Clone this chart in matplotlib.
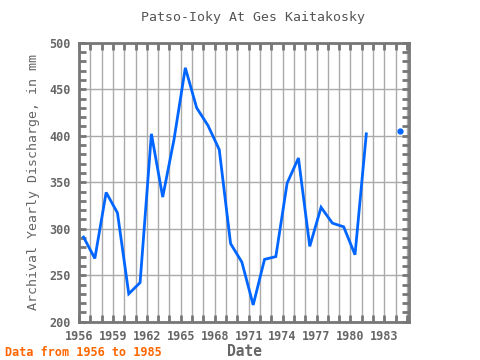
import numpy as np
import matplotlib
matplotlib.use("Agg")
import matplotlib.pyplot as plt
from matplotlib.ticker import MultipleLocator

# Data (hydrological years, plotted at ~0.4 into each year)
years = list(range(1956, 1985))
discharge = [291, 268, 339, 317, 230, 242, 402, 334, 396, 473, 430, 411, 385,
             284, 264, 218, 267, 270, 349, 376, 281, 323, 306, 302, 272, 402,
             np.nan, np.nan, 405]
date_offset = 0.4

title = "Patso-Ioky At Ges Kaitakosky"
xlabel = "Date"
ylabel = "Archival Yearly Discharge, in mm"
footer = "Data from 1956 to 1985"
xticks = list(range(1956, 1986, 3))
yticks = list(range(200, 501, 50))

mono = ["DejaVu Sans Mono"]
gray = "#666666"

fig = plt.figure(figsize=(4.8, 3.6), dpi=100)
ax = fig.add_axes([79/480, 1 - 321.7/360, (409.3-79)/480, (321.7-42.7)/360])

x = np.array(years) + date_offset
y = np.array(discharge, dtype=float)
ax.plot(x, y, color="#0066ff", lw=2, solid_joinstyle="miter")
# isolated points shown as dots
for i in range(len(y)):
    prev_nan = i == 0 or np.isnan(y[i-1])
    next_nan = i == len(y)-1 or np.isnan(y[i+1])
    if not np.isnan(y[i]) and prev_nan and next_nan:
        ax.plot([x[i]], [y[i]], "o", color="#0066ff", ms=3.5)

ax.set_xlim(1956, 1985.2)
ax.set_ylim(200, 500)
ax.set_xticks(xticks)
ax.xaxis.set_minor_locator(MultipleLocator(1))
ax.set_yticks(yticks)
ax.yaxis.set_minor_locator(MultipleLocator(10))
ax.grid(True, which="major", axis="y", color="#aaaaaa", lw=1)
ax.grid(True, which="minor", axis="x", color="#aaaaaa", lw=1)
ax.grid(True, which="major", axis="x", color="#aaaaaa", lw=1)
ax.set_axisbelow(True)

for s in ax.spines.values():
    s.set_color("#777777")
    s.set_linewidth(2)
ax.tick_params(which="both", direction="in", top=True, right=True,
               color="#777777", width=2, length=5, labelcolor=gray,
               labelsize=8.5)
ax.tick_params(which="major", pad=6)
for lab in ax.get_xticklabels() + ax.get_yticklabels():
    lab.set_fontfamily(mono)
    lab.set_fontweight("bold")

ax.set_xlabel(xlabel, family=mono, fontsize=10.5, color=gray, fontweight="bold", labelpad=1)
ax.set_ylabel(ylabel, family=mono, fontsize=9.5, color=gray, labelpad=7)
fig.text(253/480, 1 - 17/360, title, family=mono, fontsize=9.5, color="#555555",
         ha="center", va="center")
fig.text(5/480, 1 - 352/360, footer, family=mono, fontsize=8.5, color="#ff6600",
         fontweight="bold", ha="left", va="center")

fig.savefig("out.png", dpi=100)
